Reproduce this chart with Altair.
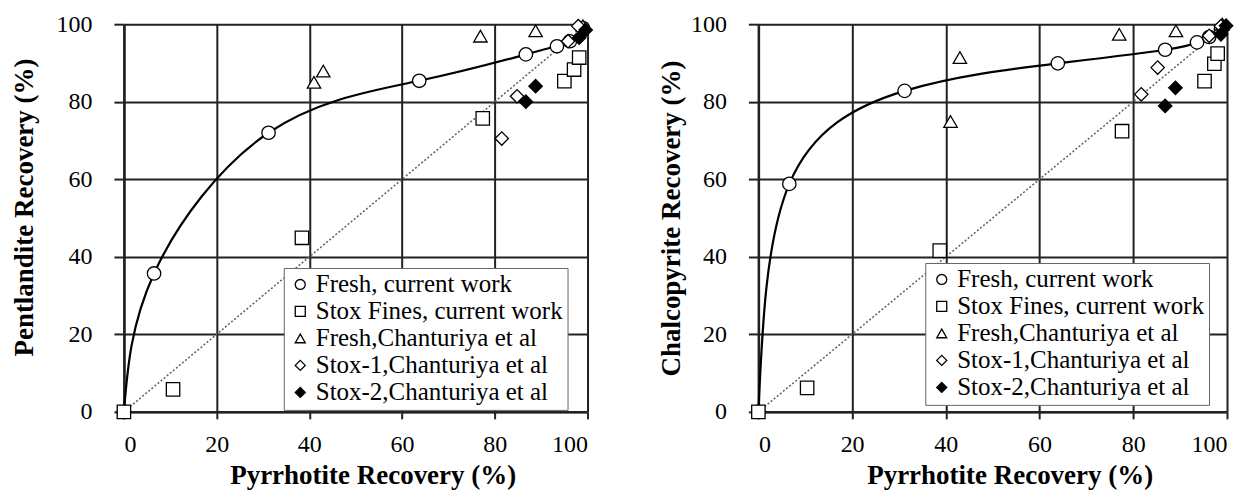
import altair as alt
import pandas as pd

# ---------------- data ----------------
series_names = ["Fresh, current work", "Stox Fines, current work",
                "Fresh,Chanturiya et al", "Stox-1,Chanturiya et al",
                "Stox-2,Chanturiya et al"]

# Left panel: Pentlandite vs Pyrrhotite
fresh_x_L = [0, 6.5, 31.2, 63.7, 86.7, 93.4, 96.2, 99.0]
fresh_y_L = [0, 35.7, 72.0, 85.4, 92.2, 94.3, 95.6, 99.0]
stox_x_L = [0, 10.6, 38.4, 77.4, 95.0, 97.1, 98.2]
stox_y_L = [0, 5.8, 44.9, 75.7, 85.3, 88.3, 91.4]
tri_x_L = [41.0, 43.0, 76.9, 88.8, 99.0]
tri_y_L = [85.0, 87.9, 96.9, 98.3, 99.6]
s1_x_L = [81.5, 84.8, 95.8, 98.0]
s1_y_L = [70.5, 81.4, 95.6, 99.5]
s2_x_L = [86.7, 88.8, 98.2, 99.6]
s2_y_L = [80.0, 84.0, 96.5, 98.5]

# Right panel: Chalcopyrite vs Pyrrhotite
fresh_x_R = [0, 6.6, 31.2, 63.9, 86.8, 93.6, 96.2, 98.7]
fresh_y_R = [0, 58.8, 82.8, 89.9, 93.4, 95.3, 96.7, 98.7]
stox_x_R = [0, 10.4, 38.7, 77.6, 95.2, 97.3, 98.0]
stox_y_R = [0, 6.2, 41.6, 72.4, 85.3, 89.8, 92.4]
tri_x_R = [41.0, 43.0, 77.0, 89.1, 99.0]
tri_y_R = [74.9, 91.4, 97.4, 98.3, 100.0]
s1_x_R = [81.7, 85.2, 96.2, 98.7]
s1_y_R = [81.9, 88.8, 97.0, 99.5]
s2_x_R = [86.8, 89.0, 98.7, 99.8]
s2_y_R = [78.9, 83.6, 97.4, 99.6]

diag_x = [0, 100]
diag_y = [0, 100]
tick_values = [0, 20, 40, 60, 80, 100]

shapes = ["circle", "square", "triangle-up", "diamond", "diamond"]
fills = ["white", "white", "white", "white", "black"]
strokes = ["black"] * 5

FONT = "Liberation Serif"
PLOT_H = 388


def build_points(groups):
    rows = []
    for name, (xs, ys) in zip(series_names, groups):
        for x, y in zip(xs, ys):
            rows.append({"x": x, "y": y, "series": name})
    return pd.DataFrame(rows)


def panel(groups, fresh_x, fresh_y, ytitle, lx, ly, width, ytp, ytitle_y):
    pts = build_points(groups)
    curve = pd.DataFrame({"x": fresh_x, "y": fresh_y})
    diag = pd.DataFrame({"x": diag_x, "y": diag_y})

    xs = alt.Scale(domain=[0, 100], nice=False)
    ys = alt.Scale(domain=[0, 100], nice=False)
    xax = alt.Axis(values=tick_values, title="Pyrrhotite Recovery (%)",
                   tickSize=7, labelPadding=14, titlePadding=6,
                   titleX=width / 2 + 17)
    yax = alt.Axis(values=tick_values, title=ytitle, tickSize=10,
                   labelPadding=22, titlePadding=ytp, titleY=ytitle_y)

    leg = alt.Legend(title=None, orient="none", legendX=lx, legendY=ly)
    d = alt.Chart(diag).mark_line(color="#666", strokeDash=[2, 2], strokeWidth=1.6).encode(
        x=alt.X("x:Q", scale=xs, axis=xax), y=alt.Y("y:Q", scale=ys, axis=yax))
    c = alt.Chart(curve).mark_line(color="black", strokeWidth=2.2,
                                   interpolate="natural").encode(
        x=alt.X("x:Q", scale=xs), y=alt.Y("y:Q", scale=ys))
    p = alt.Chart(pts).mark_point(filled=True, strokeWidth=1.3,
                                  size=180, opacity=1).encode(
        x=alt.X("x:Q", scale=xs), y=alt.Y("y:Q", scale=ys),
        shape=alt.Shape("series:N", scale=alt.Scale(domain=series_names, range=shapes), legend=leg),
        fill=alt.Fill("series:N", scale=alt.Scale(domain=series_names, range=fills), legend=leg),
        stroke=alt.Stroke("series:N", scale=alt.Scale(domain=series_names, range=strokes), legend=leg),
    )
    return alt.layer(d, c, p).properties(width=width, height=PLOT_H)


left = panel([(fresh_x_L, fresh_y_L), (stox_x_L, stox_y_L), (tri_x_L, tri_y_L),
              (s1_x_L, s1_y_L), (s2_x_L, s2_y_L)], fresh_x_L, fresh_y_L,
             "Pentlandite Recovery (%)", 160, 244, 464, 17, 183)
right = panel([(fresh_x_R, fresh_y_R), (stox_x_R, stox_y_R), (tri_x_R, tri_y_R),
               (s1_x_R, s1_y_R), (s2_x_R, s2_y_R)], fresh_x_R, fresh_y_R,
              "Chalcopyrite Recovery (%)", 167, 239, 469, 5, PLOT_H / 2)

chart = alt.hconcat(left, right, spacing=62).resolve_scale(
    shape="independent", fill="independent", stroke="independent"
).properties(
    padding={"left": 3, "top": 4, "right": 5, "bottom": 5}
).configure(font=FONT).configure_view(stroke=None).configure_axis(
    labelFont=FONT, labelFontSize=24, labelColor="black",
    titleFont=FONT, titleFontSize=27, titleFontWeight="bold", titleColor="black",
    grid=True, gridColor="#222", gridWidth=2, gridOpacity=1,
    domainColor="#222", domainWidth=2.5, tickColor="#222", tickWidth=2,
).configure_legend(
    labelFont=FONT, labelFontSize=25, labelColor="black", symbolSize=100,
    symbolStrokeWidth=1.3, strokeColor="#666",
    fillColor="white", padding=4, rowPadding=1, labelOffset=3, cornerRadius=0,
    labelLimit=400,
)

chart.save("out.html", embed_options={"renderer": "svg", "actions": False})
